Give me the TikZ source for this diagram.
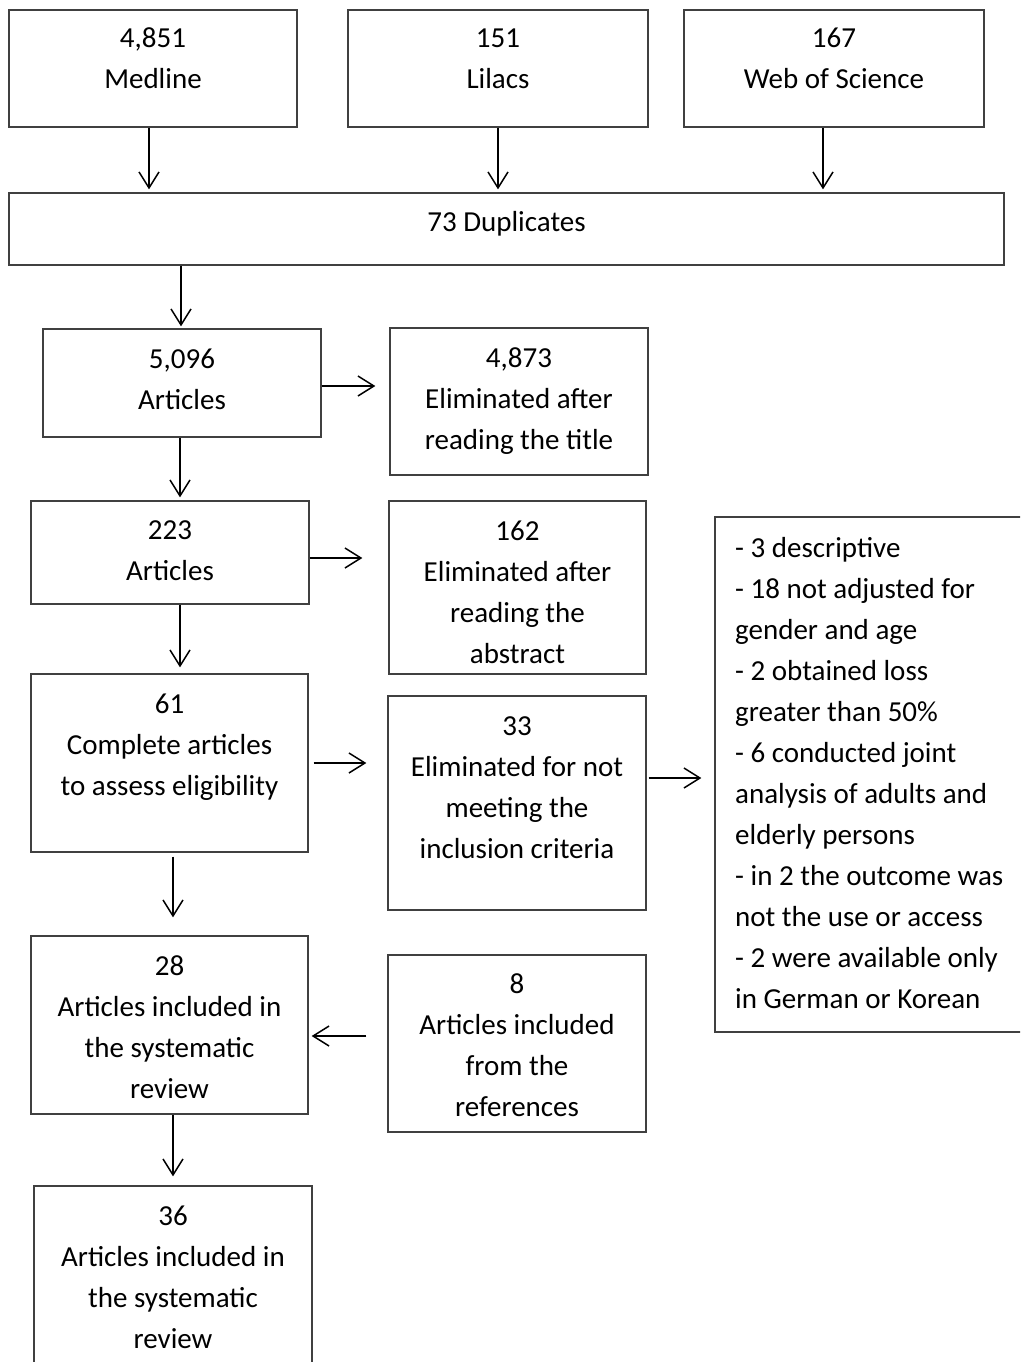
\documentclass[tikz,border=0pt]{standalone}
\usepackage{fontspec}
\setmainfont{Carlito}
\usetikzlibrary{arrows.meta}
\begin{document}
\begin{tikzpicture}[x=1pt,y=-1pt,
  box/.style={draw=black!75, line width=1.3pt, rectangle, inner sep=0pt},
  txt/.style={inner sep=0pt, align=center, font=\fontsize{29}{41}\selectfont},
  ltxt/.style={inner sep=0pt, align=left, font=\fontsize{29}{41}\selectfont},
  arr/.style={draw=black, line width=1.5pt, -{Straight Barb[length=16pt,width=20pt,line width=1.5pt]}}]
\clip (0,0) rectangle (1020,1362);
% boxes
\node[box, minimum width=288, minimum height=117] (med) at (153,68.5) {};
\node[box, minimum width=300, minimum height=117] (lil) at (498,68.5) {};
\node[box, minimum width=300, minimum height=117] (wos) at (834,68.5) {};
\node[box, minimum width=995, minimum height=72] (dup) at (506.5,229) {};
\node[box, minimum width=278, minimum height=108] (art1) at (182,383) {};
\node[box, minimum width=258, minimum height=147] (el1) at (519,401.5) {};
\node[box, minimum width=278, minimum height=103] (art2) at (170,552.5) {};
\node[box, minimum width=257, minimum height=173] (el2) at (517.5,587.5) {};
\node[box, minimum width=277, minimum height=178] (art3) at (169.5,763) {};
\node[box, minimum width=258, minimum height=214] (el3) at (517,803) {};
\node[box, minimum width=330, minimum height=515] (lst) at (880,774.5) {};
\node[box, minimum width=277, minimum height=178] (art4) at (169.5,1025) {};
\node[box, minimum width=258, minimum height=177] (el4) at (517,1043.5) {};
\node[box, minimum width=278, minimum height=220] (art5) at (173,1296) {};
% texts (anchor at baseline of last line)
\node[txt, anchor=base] (medT) at (153,89) {4,851\\Medline};
\node[txt, anchor=base] (lilT) at (498,89) {151\\Lilacs};
\node[txt, anchor=base] (wosT) at (834,89) {167\\Web of Science};
\node[txt, anchor=base] (dupT) at (506.5,231) {73 Duplicates};
\node[txt, anchor=base] (art1T) at (182,409) {5,096\\Articles};
\node[txt, anchor=base] (el1T) at (519,449) {4,873\\Eliminated after\\reading the title};
\node[txt, anchor=base] (art2T) at (170,580) {223\\Articles};
\node[txt, anchor=base] (el2T) at (517.5,663) {162\\Eliminated after\\reading the\\abstract};
\node[txt, anchor=base] (art3T) at (169.5,795) {61\\Complete articles\\to assess eligibility};
\node[txt, anchor=base] (el3T) at (517,858) {33\\Eliminated for not\\meeting the\\inclusion criteria};
\node[ltxt, anchor=base west] (lstT) at (735,1008) {- 3 descriptive\\- 18 not adjusted for\\gender and age\\- 2 obtained loss\\greater than 50\%\\- 6 conducted joint\\analysis of adults and\\elderly persons\\- in 2 the outcome was\\not the use or access\\- 2 were available only\\in German or Korean};
\node[txt, anchor=base] (art4T) at (169.5,1098) {28\\Articles included in\\the systematic\\review};
\node[txt, anchor=base] (el4T) at (517,1116) {8\\Articles included\\from the\\references};
\node[txt, anchor=base] (art5T) at (173,1348) {36\\Articles included in\\the systematic\\review};
% connectors
\draw[arr, shorten >=3pt] ([xshift=-4]med.south) -- ([xshift=-4]med.south |- dup.north);
\draw[arr, shorten >=3pt] (lil.south) -- (lil.south |- dup.north);
\draw[arr, shorten >=3pt] ([xshift=-11]wos.south) -- ([xshift=-11]wos.south |- dup.north);
\draw[arr, shorten >=2pt] ([xshift=-1]art1.north |- dup.south) -- ([xshift=-1]art1.north);
\draw[arr, shorten >=14pt] ([yshift=-3]art1.east) -- ([yshift=-3]art1.east -| el1.west);
\draw[arr, shorten >=3pt] ([xshift=-2]art1.south) -- ([xshift=-2]art1.south |- art2.north);
\draw[arr, shorten >=26pt] ([yshift=-5.5]art2.east) -- ([yshift=-5.5]art2.east -| el2.west);
\draw[arr, shorten >=6pt] ([xshift=10]art2.south) -- ([xshift=10]art2.south |- art3.north);
\draw[arr, shorten <=5pt, shorten >=21pt] (art3.east) -- (art3.east -| el3.west);
\draw[arr, shorten <=2pt, shorten >=13pt] ([yshift=25]el3.east) -- ([yshift=25]el3.east -| lst.west);
\draw[arr, shorten <=4pt, shorten >=18pt] ([xshift=3.5]art3.south) -- ([xshift=3.5]art3.south |- art4.north);
\draw[arr, shorten <=21pt, shorten >=3pt] ([yshift=7.5]el4.west) -- ([yshift=7.5]el4.west -| art4.east);
\draw[arr, shorten >=9pt] ([xshift=3.5]art4.south) -- ([xshift=3.5]art4.south |- art5.north);
\end{tikzpicture}
\end{document}
